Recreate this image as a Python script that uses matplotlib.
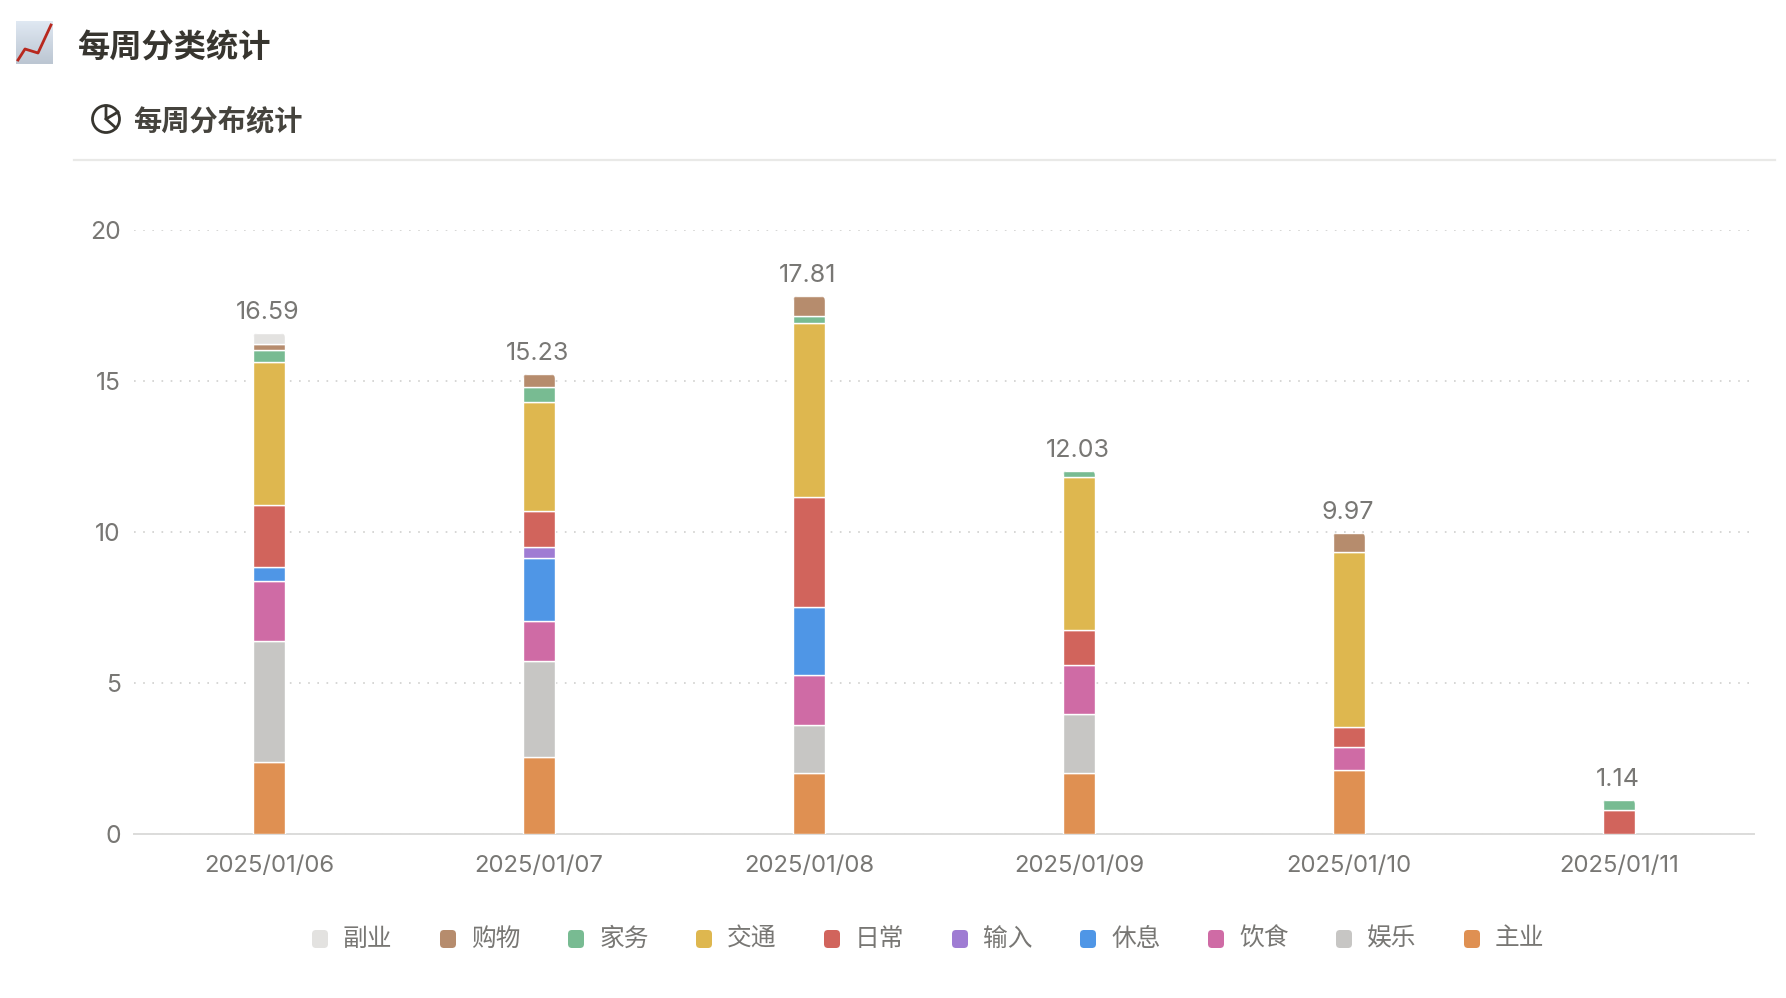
import numpy as np
import matplotlib
matplotlib.use('Agg')
import matplotlib.pyplot as plt
from matplotlib.patches import Circle, FancyBboxPatch
from matplotlib.transforms import IdentityTransform

plt.rcParams['font.family'] = ['Inter', 'Noto Sans CJK SC', 'DejaVu Sans']

W, H = 1786, 998

# 数据
dates = ['2025/01/06', '2025/01/07', '2025/01/08', '2025/01/09', '2025/01/10', '2025/01/11']
totals = [16.59, 15.23, 17.81, 12.03, 9.97, 1.14]

main_job = [2.40, 2.55, 2.02, 2.02, 2.13, 0]
fun = [3.98, 3.17, 1.58, 1.96, 0, 0]
food = [2.00, 1.32, 1.67, 1.62, 0.76, 0]
rest = [0.47, 2.11, 2.26, 0, 0, 0]
inputs = [0, 0.34, 0, 0, 0, 0]
daily = [2.04, 1.21, 3.62, 1.17, 0.64, 0.79]
traffic = [4.75, 3.62, 5.77, 5.04, 5.80, 0]
house = [0.38, 0.48, 0.23, 0.22, 0, 0.35]
shopping = [0.19, 0.43, 0.66, 0, 0.64, 0]
side_job = [0.38, 0, 0, 0, 0, 0]

series = [main_job, fun, food, rest, inputs, daily, traffic, house, shopping, side_job]
names = ['主业', '娱乐', '饮食', '休息', '输入', '日常', '交通', '家务', '购物', '副业']
colors = ['#df9052', '#c7c6c4', '#cf6ba5', '#4f96e6', '#9f7cd3',
          '#d1645c', '#deb74f', '#78bb92', '#b68c6d', '#e3e2e0']

fig = plt.figure(figsize=(W / 100, H / 100), dpi=100)

# 页面层，用像素坐标放标题、图标和图例
page = fig.add_axes([0, 0, 1, 1])
page.set_xlim(0, W)
page.set_ylim(H, 0)
page.axis('off')

# 主图
left, right, top, bottom = 134, 1754, 230, 834
ax = fig.add_axes([left / W, 1 - bottom / H, (right - left) / W, (bottom - top) / H])
ax.set_xlim(-0.5, 5.5)
ax.set_ylim(0, 20)

x = np.arange(len(dates))
bar_w = 32 / 270
base = np.zeros(len(dates))
top_bars = {}
for vals, name, c in zip(series, names, colors):
    vals = np.array(vals, dtype=float)
    bars = ax.bar(x, vals, bar_w, bottom=base, color=c, edgecolor='white', linewidth=1.0, zorder=3)
    for i, b in enumerate(bars):
        if vals[i] > 0:
            top_bars[i] = b
        else:
            b.set_visible(False)
    base += vals

# 每根柱子最上面一段做圆角
for i, b in top_bars.items():
    (x0, y0), (x1, y1) = ax.transData.transform([(b.get_x(), b.get_y()), (b.get_x() + b.get_width(), b.get_y() + b.get_height())])
    clip = FancyBboxPatch((x0, y0 - 10), x1 - x0, y1 - y0 + 10, boxstyle='round,pad=0,rounding_size=5',
                          transform=IdentityTransform())
    b.set_clip_path(clip)

for i, t in enumerate(totals):
    ax.annotate(f'{t:.2f}', (x[i], t), xytext=(-1, 14.5), textcoords='offset points',
                ha='center', va='center', fontsize=18, color='#787774')

ax.set_xticks(x, dates)
ax.set_yticks([0, 5, 10, 15, 20])
ax.tick_params(axis='x', length=0, labelsize=17.2, labelcolor='#787774', pad=15)
ax.tick_params(axis='y', length=0, labelsize=17.8, labelcolor='#787774', pad=9.5)
for lab in ax.get_yticklabels():
    lab.set_va('center_baseline')
ax.grid(axis='y', linestyle=(0, (1, 4.5)), color='#d0d0ce', linewidth=1.2, zorder=0)
ax.set_axisbelow(True)
for s in ['top', 'right', 'left']:
    ax.spines[s].set_visible(False)
ax.spines['bottom'].set_color('#dcdcda')
ax.spines['bottom'].set_linewidth(1.4)
ax.patch.set_alpha(0)

# 标题
page.text(77, 49, '每周分类统计', fontsize=23.2, fontweight='bold', color='#37352f', va='center')
page.text(133, 122, '每周分布统计', fontsize=20.3, fontweight='bold', color='#45433d', va='center')
page.plot([74, 1775], [160, 160], color='#e9e9e7', linewidth=1.6)

# 图标
grad = np.linspace(0, 1, 40).reshape(-1, 1)
page.imshow(grad, extent=(16, 53, 64, 21), cmap=matplotlib.colors.LinearSegmentedColormap.from_list('g', ['#dfe8f2', '#bcc6d2']),
            aspect='auto', zorder=1)
page.set_xlim(0, W)
page.set_ylim(H, 0)
page.plot([18, 25, 38, 51], [60, 49, 53, 25], color='#b8281e', linewidth=2.0, zorder=2)

page.add_patch(Circle((106, 119), 13.5, fill=False, edgecolor='#37352f', linewidth=2.0))
page.plot([106, 106, 118], [106, 119, 112], color='#37352f', linewidth=2.0)
page.plot([106, 116], [119, 128], color='#37352f', linewidth=2.0)

# 图例（顺序和堆叠相反）
for k, (name, c) in enumerate(zip(names[::-1], colors[::-1])):
    lx = 312 + 128 * k
    page.add_patch(FancyBboxPatch((lx + 2, 932), 12, 14, boxstyle='round,pad=2,rounding_size=4',
                                  facecolor=c, edgecolor='none'))
    page.text(lx + 31, 939, name, fontsize=17.8, color='#787774', va='center')

fig.savefig('out.png', dpi=100)
